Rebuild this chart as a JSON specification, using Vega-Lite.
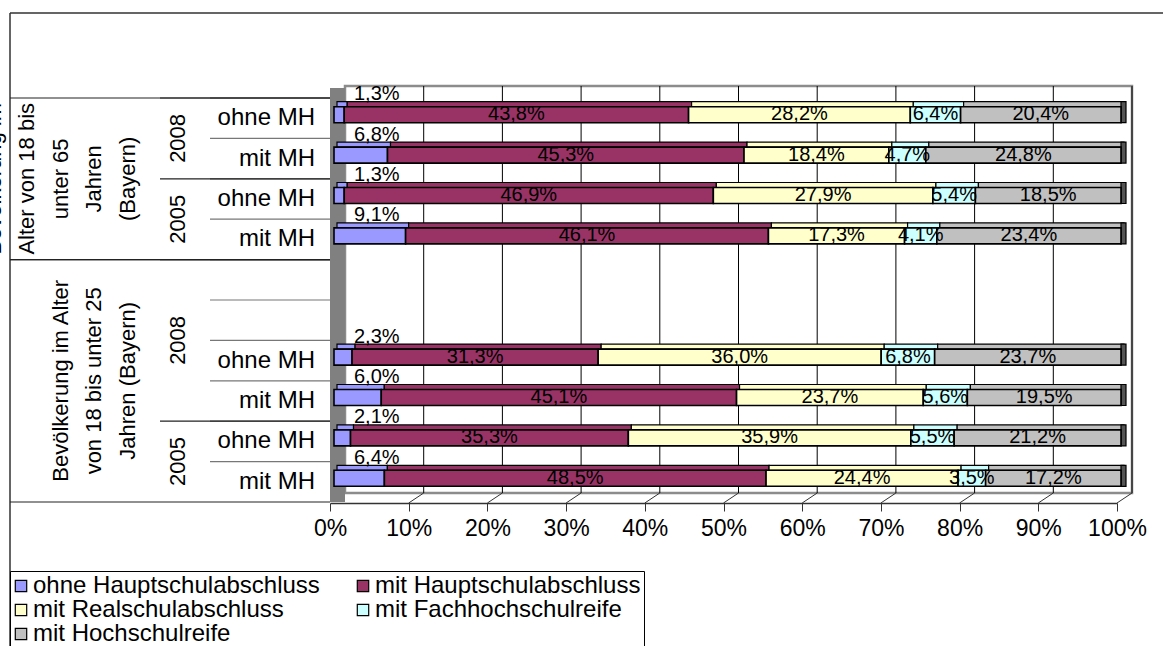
{
  "$schema": "https://vega.github.io/schema/vega-lite/v6.json",
  "width": 1153,
  "height": 633,
  "autosize": {"type": "none"},
  "padding": {"left": 10, "top": 13, "right": 0, "bottom": 0},
  "background": "white",
  "config": {
    "font": "Liberation Sans",
    "view": {"stroke": "#333333", "strokeWidth": 1.5, "strokeDash": [1153, 1786, 633, 0]},
    "locale": {"number": {"decimal": ",", "thousands": ".", "grouping": [3], "currency": ["", " €"]}},
    "axis": {"grid": false}
  },
  "datasets": {
    "one": [{"id": 1}],
    "ticks": [{"t": 0.1}, {"t": 0.2}, {"t": 0.3}, {"t": 0.4}, {"t": 0.5}, {"t": 0.6}, {"t": 0.7}, {"t": 0.8}, {"t": 0.9}, {"t": 1.0}],
    "rows": [
      {"row": 0, "g": "(Bayern)\nJahren\nunter 65\nAlter von 18 bis\nBevölkerung im", "yr": "2008", "s": "ohne MH"},
      {"row": 1, "g": "(Bayern)\nJahren\nunter 65\nAlter von 18 bis\nBevölkerung im", "yr": "2008", "s": "mit MH"},
      {"row": 2, "g": "(Bayern)\nJahren\nunter 65\nAlter von 18 bis\nBevölkerung im", "yr": "2005", "s": "ohne MH"},
      {"row": 3, "g": "(Bayern)\nJahren\nunter 65\nAlter von 18 bis\nBevölkerung im", "yr": "2005", "s": "mit MH"},
      {"row": 4, "g": "Jahren (Bayern)\nvon 18 bis unter 25\nBevölkerung im Alter", "yr": "2008", "s": ""},
      {"row": 5, "g": "Jahren (Bayern)\nvon 18 bis unter 25\nBevölkerung im Alter", "yr": "2008", "s": ""},
      {"row": 6, "g": "Jahren (Bayern)\nvon 18 bis unter 25\nBevölkerung im Alter", "yr": "2008", "s": "ohne MH"},
      {"row": 7, "g": "Jahren (Bayern)\nvon 18 bis unter 25\nBevölkerung im Alter", "yr": "2008", "s": "mit MH"},
      {"row": 8, "g": "Jahren (Bayern)\nvon 18 bis unter 25\nBevölkerung im Alter", "yr": "2005", "s": "ohne MH"},
      {"row": 9, "g": "Jahren (Bayern)\nvon 18 bis unter 25\nBevölkerung im Alter", "yr": "2005", "s": "mit MH"}
    ],
    "edu": [
      {"row": 0, "c": "ohne Hauptschulabschluss", "k": 1, "v": 0.013},
      {"row": 0, "c": "mit Hauptschulabschluss", "k": 2, "v": 0.438},
      {"row": 0, "c": "mit Realschulabschluss", "k": 3, "v": 0.282},
      {"row": 0, "c": "mit Fachhochschulreife", "k": 4, "v": 0.064},
      {"row": 0, "c": "mit Hochschulreife", "k": 5, "v": 0.204},
      {"row": 1, "c": "ohne Hauptschulabschluss", "k": 1, "v": 0.068},
      {"row": 1, "c": "mit Hauptschulabschluss", "k": 2, "v": 0.453},
      {"row": 1, "c": "mit Realschulabschluss", "k": 3, "v": 0.184},
      {"row": 1, "c": "mit Fachhochschulreife", "k": 4, "v": 0.047},
      {"row": 1, "c": "mit Hochschulreife", "k": 5, "v": 0.248},
      {"row": 2, "c": "ohne Hauptschulabschluss", "k": 1, "v": 0.013},
      {"row": 2, "c": "mit Hauptschulabschluss", "k": 2, "v": 0.469},
      {"row": 2, "c": "mit Realschulabschluss", "k": 3, "v": 0.279},
      {"row": 2, "c": "mit Fachhochschulreife", "k": 4, "v": 0.054},
      {"row": 2, "c": "mit Hochschulreife", "k": 5, "v": 0.185},
      {"row": 3, "c": "ohne Hauptschulabschluss", "k": 1, "v": 0.091},
      {"row": 3, "c": "mit Hauptschulabschluss", "k": 2, "v": 0.461},
      {"row": 3, "c": "mit Realschulabschluss", "k": 3, "v": 0.173},
      {"row": 3, "c": "mit Fachhochschulreife", "k": 4, "v": 0.041},
      {"row": 3, "c": "mit Hochschulreife", "k": 5, "v": 0.234},
      {"row": 6, "c": "ohne Hauptschulabschluss", "k": 1, "v": 0.023},
      {"row": 6, "c": "mit Hauptschulabschluss", "k": 2, "v": 0.313},
      {"row": 6, "c": "mit Realschulabschluss", "k": 3, "v": 0.360},
      {"row": 6, "c": "mit Fachhochschulreife", "k": 4, "v": 0.068},
      {"row": 6, "c": "mit Hochschulreife", "k": 5, "v": 0.237},
      {"row": 7, "c": "ohne Hauptschulabschluss", "k": 1, "v": 0.060},
      {"row": 7, "c": "mit Hauptschulabschluss", "k": 2, "v": 0.451},
      {"row": 7, "c": "mit Realschulabschluss", "k": 3, "v": 0.237},
      {"row": 7, "c": "mit Fachhochschulreife", "k": 4, "v": 0.056},
      {"row": 7, "c": "mit Hochschulreife", "k": 5, "v": 0.195},
      {"row": 8, "c": "ohne Hauptschulabschluss", "k": 1, "v": 0.021},
      {"row": 8, "c": "mit Hauptschulabschluss", "k": 2, "v": 0.353},
      {"row": 8, "c": "mit Realschulabschluss", "k": 3, "v": 0.359},
      {"row": 8, "c": "mit Fachhochschulreife", "k": 4, "v": 0.055},
      {"row": 8, "c": "mit Hochschulreife", "k": 5, "v": 0.212},
      {"row": 9, "c": "ohne Hauptschulabschluss", "k": 1, "v": 0.064},
      {"row": 9, "c": "mit Hauptschulabschluss", "k": 2, "v": 0.485},
      {"row": 9, "c": "mit Realschulabschluss", "k": 3, "v": 0.244},
      {"row": 9, "c": "mit Fachhochschulreife", "k": 4, "v": 0.035},
      {"row": 9, "c": "mit Hochschulreife", "k": 5, "v": 0.172}
    ]
  },
  "resolve": {"scale": {"x": "independent", "y": "independent"}},
  "layer": [
    {
      "layer": [
        {
          "data": {"name": "one"},
          "mark": {"type": "rect", "fill": "white", "stroke": "#8c8c8c", "strokeWidth": 2.5, "xOffset": 15, "x2Offset": 15, "yOffset": -12, "y2Offset": -9},
          "encoding": {
            "x": {"datum": 0, "type": "quantitative", "scale": {"domain": [0, 1], "range": [320, 1107], "zero": false, "nice": false},
              "axis": {"values": [0, 0.1, 0.2, 0.3, 0.4, 0.5, 0.6, 0.7, 0.8, 0.9, 1], "format": ".0%", "offset": -143, "title": null, "domainColor": "#333333", "domainWidth": 1.5, "tickColor": "#333333", "tickSize": 8, "tickWidth": 1, "labelFontSize": 23, "labelColor": "black", "labelPadding": 6, "labelFlush": false, "labelOverlap": false, "grid": false}},
            "x2": {"datum": 1},
            "y": {"datum": 0, "type": "quantitative", "scale": {"domain": [0, 10], "range": [85, 489], "zero": false, "nice": false}, "axis": null},
            "y2": {"datum": 10}
          }
        },
        {
          "data": {"name": "ticks"},
          "mark": {"type": "rule", "color": "black", "strokeWidth": 1, "xOffset": 15, "yOffset": -12, "y2Offset": -9},
          "encoding": {
            "x": {"field": "t", "type": "quantitative"},
            "y": {"datum": 0, "type": "quantitative"},
            "y2": {"datum": 10}
          }
        },
        {
          "data": {"name": "ticks"},
          "mark": {"type": "rule", "color": "#333333", "strokeWidth": 1, "x2Offset": 15, "yOffset": 1, "y2Offset": -9},
          "encoding": {
            "x": {"field": "t", "type": "quantitative"},
            "x2": {"field": "t"},
            "y": {"datum": 10, "type": "quantitative"},
            "y2": {"datum": 10}
          }
        },
        {
          "data": {"name": "one"},
          "mark": {"type": "rect", "fill": "#808080", "x2Offset": 15, "yOffset": -10, "y2Offset": 0},
          "encoding": {
            "x": {"datum": 0, "type": "quantitative"},
            "x2": {"datum": 0},
            "y": {"datum": 0, "type": "quantitative"},
            "y2": {"datum": 10}
          }
        }
      ]
    },
    {
      "data": {"name": "edu"},
      "layer": [
        {
          "mark": {"type": "bar", "orient": "horizontal", "size": 5, "yOffset": -14, "xOffset": 7, "x2Offset": 9, "stroke": "black", "strokeWidth": 1.2},
          "encoding": {
            "x": {"field": "v", "type": "quantitative", "stack": "normalize", "scale": {"domain": [0, 1], "range": [320, 1107], "zero": false, "nice": false}, "axis": null},
            "y": {"field": "row", "type": "ordinal", "scale": {"domain": [0, 1, 2, 3, 4, 5, 6, 7, 8, 9], "range": [85, 489], "paddingInner": 0, "paddingOuter": 0}, "axis": null},
            "color": {"field": "c", "type": "nominal", "scale": {"domain": ["ohne Hauptschulabschluss", "mit Hauptschulabschluss", "mit Realschulabschluss", "mit Fachhochschulreife", "mit Hochschulreife"], "range": ["#9999FF", "#993366", "#FFFFCC", "#CCFFFF", "#C0C0C0"]},
              "legend": {"orient": "none", "legendX": 0, "legendY": 558, "columns": 2, "direction": "horizontal", "gridAlign": "all", "title": null, "strokeColor": "black", "fillColor": "white", "padding": 3, "labelFontSize": 24, "labelFont": "Liberation Sans", "labelColor": "black", "symbolType": "square", "symbolSize": 130, "symbolStrokeColor": "black", "symbolStrokeWidth": 1.2, "symbolOffset": -4, "labelOffset": 0, "columnPadding": 34, "rowPadding": 0, "labelLimit": 0}},
            "order": {"field": "k", "type": "quantitative"}
          }
        },
        {
          "transform": [{"filter": "datum.k === 5"}],
          "mark": {"type": "bar", "orient": "horizontal", "size": 21, "yOffset": -6, "xOffset": 4, "x2Offset": 9, "fill": "#555555", "stroke": "black", "strokeWidth": 1.2},
          "encoding": {
            "x": {"datum": 1, "type": "quantitative"},
            "x2": {"datum": 1},
            "y": {"field": "row", "type": "ordinal"}
          }
        },
        {
          "mark": {"type": "bar", "orient": "horizontal", "size": 16, "yOffset": -3.5, "xOffset": 4, "x2Offset": 4, "stroke": "black", "strokeWidth": 1.6},
          "encoding": {
            "x": {"field": "v", "type": "quantitative", "stack": "normalize"},
            "y": {"field": "row", "type": "ordinal"},
            "color": {"field": "c", "type": "nominal"},
            "order": {"field": "k", "type": "quantitative"}
          }
        },
        {
          "mark": {"type": "text", "fontSize": 20, "color": "black", "baseline": "middle", "align": "center", "dy": -4, "xOffset": 4},
          "encoding": {
            "x": {"field": "v", "type": "quantitative", "stack": "normalize", "bandPosition": 0.5},
            "y": {"field": "row", "type": "ordinal"},
            "text": {"condition": {"test": "datum.k === 1", "value": ""}, "field": "v", "type": "quantitative", "format": ".1%"},
            "order": {"field": "k", "type": "quantitative"}
          }
        },
        {
          "transform": [{"filter": "datum.k === 1"}],
          "mark": {"type": "text", "fontSize": 20, "color": "black", "baseline": "middle", "align": "left", "dy": -24, "xOffset": 24},
          "encoding": {
            "x": {"datum": 0, "type": "quantitative"},
            "y": {"field": "row", "type": "ordinal"},
            "text": {"field": "v", "type": "quantitative", "format": ".1%"}
          }
        }
      ]
    },
    {
      "data": {"name": "rows"},
      "layer": [
        {
          "mark": {"type": "rule", "color": "#777777", "strokeWidth": 1.2},
          "encoding": {
            "x": {"datum": 2, "type": "quantitative", "scale": {"domain": [0, 1, 2, 3], "range": [0, 150, 200, 320], "zero": false, "nice": false}, "axis": null},
            "x2": {"datum": 3},
            "y": {"field": "row", "type": "quantitative", "scale": {"domain": [0, 10], "range": [85, 489], "zero": false, "nice": false}, "axis": null}
          }
        },
        {
          "transform": [{"aggregate": [{"op": "min", "field": "row", "as": "year_first"}], "groupby": ["g", "yr"]}],
          "mark": {"type": "rule", "color": "#222222", "strokeWidth": 1.2},
          "encoding": {
            "x": {"datum": 1, "type": "quantitative"},
            "x2": {"datum": 3},
            "y": {"field": "year_first", "type": "quantitative"}
          }
        },
        {
          "transform": [{"aggregate": [{"op": "min", "field": "row", "as": "group_first"}], "groupby": ["g"]}],
          "mark": {"type": "rule", "color": "#222222", "strokeWidth": 1.2},
          "encoding": {
            "x": {"datum": 0, "type": "quantitative"},
            "x2": {"datum": 3},
            "y": {"field": "group_first", "type": "quantitative"}
          }
        },
        {
          "transform": [{"aggregate": [{"op": "max", "field": "row", "as": "group_last"}], "groupby": ["g"]}],
          "mark": {"type": "rule", "color": "#222222", "strokeWidth": 1.2, "yOffset": 40.4},
          "encoding": {
            "x": {"datum": 0, "type": "quantitative"},
            "x2": {"datum": 3},
            "y": {"field": "group_last", "type": "quantitative"}
          }
        },
        {
          "mark": {"type": "text", "fontSize": 24, "color": "black", "align": "right", "baseline": "middle", "xOffset": -15, "yOffset": 20.2},
          "encoding": {
            "x": {"datum": 3, "type": "quantitative"},
            "y": {"field": "row", "type": "quantitative"},
            "text": {"field": "s", "type": "nominal"}
          }
        },
        {
          "transform": [{"aggregate": [{"op": "mean", "field": "row", "as": "year_mid"}], "groupby": ["g", "yr"]}],
          "mark": {"type": "text", "fontSize": 22, "color": "black", "align": "center", "baseline": "middle", "angle": 270, "xOffset": 18, "yOffset": 20.2},
          "encoding": {
            "x": {"datum": 1, "type": "quantitative"},
            "y": {"field": "year_mid", "type": "quantitative"},
            "text": {"field": "yr", "type": "nominal"}
          }
        },
        {
          "transform": [{"aggregate": [{"op": "mean", "field": "row", "as": "group_mid"}], "groupby": ["g"]}],
          "mark": {"type": "text", "fontSize": 22, "color": "black", "align": "center", "baseline": "middle", "angle": 270, "lineBreak": "\n", "lineHeight": -33.5, "xOffset": 117.5, "yOffset": 20.2},
          "encoding": {
            "x": {"datum": 0, "type": "quantitative"},
            "y": {"field": "group_mid", "type": "quantitative"},
            "text": {"field": "g", "type": "nominal"}
          }
        }
      ]
    }
  ]
}
